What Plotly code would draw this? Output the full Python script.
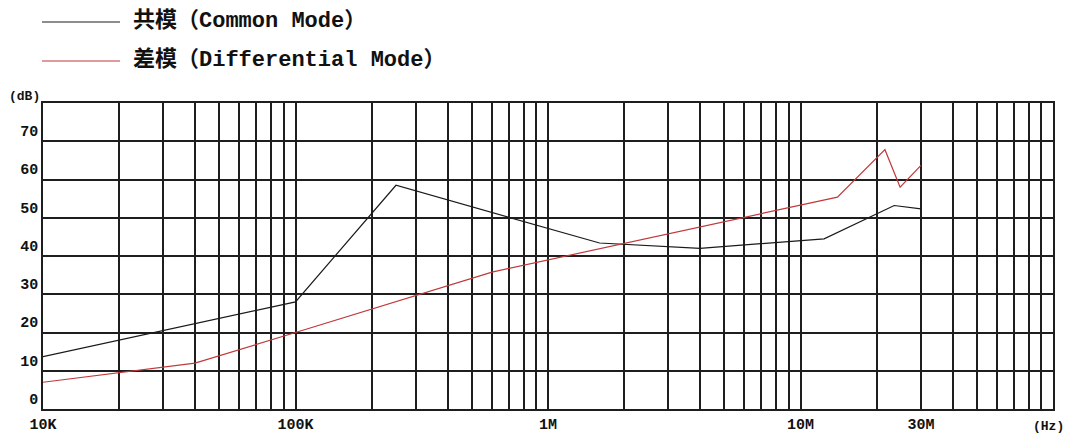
import plotly.graph_objects as go

# Common mode / differential mode attenuation vs. frequency
cm_freq = [1e4, 1e5, 2.5e5, 1.6e6, 4e6, 1.24e7, 2.35e7, 3e7]
cm_db = [13.7, 28.0, 58.5, 43.4, 42.0, 44.5, 53.2, 52.3]

dm_freq = [1e4, 4e4, 1e5, 6e5, 1.4e7, 2.16e7, 2.48e7, 3e7]
dm_db = [7.0, 12.0, 20.0, 35.8, 55.4, 67.8, 58.0, 63.7]

x_tickvals = [1e4, 1e5, 1e6, 1e7, 3e7]
x_ticktext = ["10K", "100K", "1M", "10M", "30M"]
y_tickvals = [0, 10, 20, 30, 40, 50, 60, 70, 80]
y_ticktext = ["0", "10", "20", "30", "40", "50", "60", "70", ""]

# minor log grid: 2..9 in every decade
minor_x = [m * 10 ** d for d in range(4, 8) for m in range(2, 10) if m * 10 ** d != 3e7]

legend_items = [("共模（Common Mode）", "#1a1a1a"), ("差模（Differential Mode）", "#c0393b")]

FONT = "Liberation Mono, Noto Sans CJK SC, monospace"
GRID = "#1e1e1e"

fig = go.Figure()
fig.add_trace(go.Scatter(x=cm_freq, y=cm_db, mode="lines",
                         line=dict(color="#1a1a1a", width=1.2), name=legend_items[0][0]))
fig.add_trace(go.Scatter(x=dm_freq, y=dm_db, mode="lines",
                         line=dict(color="#c0393b", width=1.2), name=legend_items[1][0]))

# page body has an 8px margin, so the figure is a bit smaller than the window
FW, FH = 1065, 432
L, R, T, B = 35, 20, 95, 31
W, H = FW - L - R, FH - T - B


def px(x):  # window pixel -> paper x
    return (x - 8 - L) / W


def py(y):  # window pixel -> paper y
    return (FH - B - (y - 8)) / H


# hand-drawn style legend at the top left
for i, (label, color) in enumerate(legend_items):
    ypx = 22 + i * 39
    fig.add_shape(type="line", xref="paper", yref="paper",
                  x0=px(42), x1=px(120), y0=py(ypx), y1=py(ypx),
                  line=dict(color=color, width=1))
    fig.add_annotation(text=label, xref="paper", yref="paper",
                       x=px(131), y=py(ypx - 1), xanchor="left", yanchor="middle",
                       showarrow=False,
                       font=dict(family=FONT, size=22, color="#111", weight="bold"))

# axis unit labels
for text, x, y in [("(dB)", 24, 96), ("(Hz)", 1048, 426)]:
    fig.add_annotation(text=text, xref="paper", yref="paper", x=px(x), y=py(y),
                       xanchor="center", yanchor="middle", showarrow=False,
                       font=dict(family=FONT, size=13, color="#111", weight="bold"))

fig.update_layout(
    width=FW, height=FH,
    margin=dict(l=L, r=R, t=T, b=B, autoexpand=False),
    paper_bgcolor="white", plot_bgcolor="white",
    showlegend=False,
    font=dict(family=FONT, color="#111"),
    xaxis=dict(
        type="log", range=[4, 8], automargin=False,
        tickvals=x_tickvals, ticktext=x_ticktext,
        tickfont=dict(size=15, weight="bold"),
        showgrid=True, gridcolor=GRID, gridwidth=1.6,
        minor=dict(tickvals=minor_x, showgrid=True, gridcolor=GRID, gridwidth=1.6),
        showline=True, linecolor=GRID, linewidth=1.6, mirror=True,
        ticks="", zeroline=False,
    ),
    yaxis=dict(
        range=[0, 80], automargin=False,
        tickvals=y_tickvals, ticktext=y_ticktext,
        tickfont=dict(size=15, weight="bold"),
        ticklabelposition="outside top",
        showgrid=True, gridcolor=GRID, gridwidth=1.6,
        showline=True, linecolor=GRID, linewidth=1.6, mirror=True,
        ticks="", zeroline=False,
    ),
)

fig.write_html("out.html")
